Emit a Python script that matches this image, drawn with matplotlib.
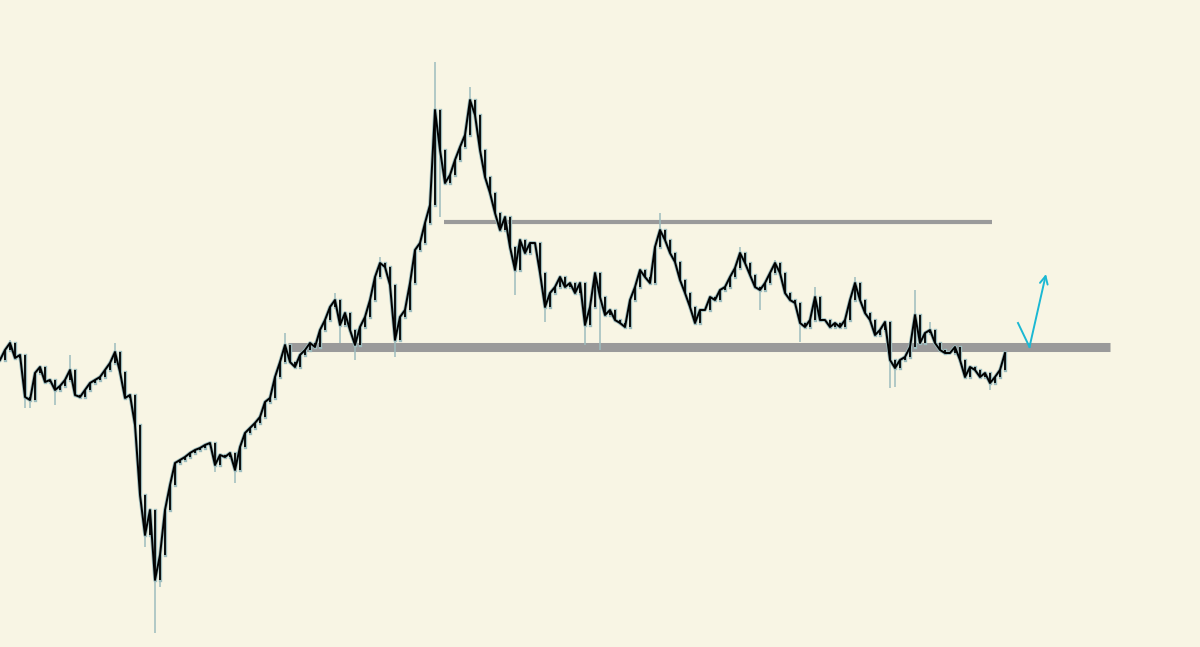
import numpy as np
import matplotlib
matplotlib.use("Agg")
import matplotlib.pyplot as plt

# 終値（1本＝約5px間隔）
closes = [
    287, 297, 304, 289, 292, 250, 247, 274, 280, 265,
    267, 257, 261, 267, 277, 252, 250, 257, 264, 267,
    270, 277, 284, 295, 275, 249, 252, 222, 152, 112,
    137, 67, 92, 137, 162, 184, 187, 190, 194, 197,
    199, 202, 204, 182, 192, 190, 194, 177, 200, 214,
    219, 224, 230, 245, 249, 270, 285, 302, 285, 280,
    292, 297, 304, 300, 317, 327, 340, 347, 322, 334,
    317, 302, 320, 330, 347, 370, 384, 380, 362, 307,
    330, 337, 364, 397, 404, 424, 442, 537, 497, 464,
    472, 487, 500, 512, 547, 532, 497, 470, 454, 434,
    417, 430, 400, 377, 407, 394, 404, 404, 374, 340,
    354, 360, 370, 360, 364, 354, 364, 322, 340, 374,
    350, 332, 337, 327, 324, 320, 347, 360, 377, 370,
    364, 400, 417, 407, 394, 385, 367, 354, 340, 324,
    337, 337, 350, 347, 357, 360, 370, 379, 394, 384,
    372, 360, 357, 364, 374, 384, 374, 354, 347, 344,
    324, 320, 327, 350, 327, 327, 320, 324, 320, 327,
    347, 364, 347, 334, 327, 312, 317, 325, 287, 279,
    287, 290, 300, 332, 304, 314, 317, 304, 297, 294,
    294, 300, 287, 270, 280, 277, 270, 274, 264, 270,
    277, 294,
]

# ヒゲ（突き出た高値・安値のみ）
wick_highs = {2: 307, 14: 292, 23: 304, 57: 314, 67: 354, 76: 390, 87: 585,
              88: 529, 94: 560, 132: 434, 148: 400, 155: 387, 163: 360,
              171: 370, 183: 357, 186: 325}
wick_lows = {5: 239, 6: 239, 11: 242, 29: 100, 31: 14, 32: 60, 43: 175,
             47: 164, 68: 304, 71: 287, 79: 290, 88: 430, 103: 352, 109: 325,
             117: 302, 120: 297, 152: 337, 160: 305, 178: 259, 179: 260,
             198: 257}

# 水平線
resistance = 425
support = 300

bg = '#f8f5e4'
wick_color = '#9dbcbe'

closes = np.array(closes)
opens = np.concatenate([[closes[0]], closes[:-1]])
idx = np.arange(len(closes))
body_lo = np.minimum(opens, closes)
body_hi = np.maximum(opens, closes)

fig = plt.figure(figsize=(12, 6.47), dpi=100)
fig.patch.set_facecolor(bg)
ax = fig.add_axes([0, 0, 1, 1])
ax.set_facecolor(bg)
ax.set_xlim(0, 240)
ax.set_ylim(0, 647)
ax.axis('off')

# 水平線
ax.hlines(resistance, 88.8, 198.4, color='#9a9a9a', lw=3, zorder=1)
ax.hlines(support, 57.6, 222, color='#9a9a9a', lw=6.5, zorder=1)

# ヒゲ
for i, v in wick_highs.items():
    ax.vlines(i, body_hi[i], v, color=wick_color, lw=1.1, zorder=2)
for i, v in wick_lows.items():
    ax.vlines(i, v, body_lo[i], color=wick_color, lw=1.1, zorder=2)

# ローソク足
ax.vlines(idx, body_lo, body_hi, color=wick_color, lw=2.4,
          capstyle='projecting', zorder=3)
ax.plot(idx, closes, color=wick_color, lw=2.6, zorder=3)
ax.plot(idx, closes, color='black', lw=1.4, zorder=4)
ax.vlines(idx, body_lo, body_hi, color='black', lw=1.3, zorder=4)

# 矢印
arrow_c = '#1bb8d3'
ax.plot([203.6, 205.9], [324, 300], color=arrow_c, lw=1.4, zorder=5)
ax.annotate('', xy=(209.2, 373), xytext=(205.9, 300),
            arrowprops=dict(arrowstyle='->', color=arrow_c, lw=1.4,
                            mutation_scale=14, shrinkA=0, shrinkB=0),
            zorder=5)

fig.savefig('out.png', dpi=100, facecolor=bg)
